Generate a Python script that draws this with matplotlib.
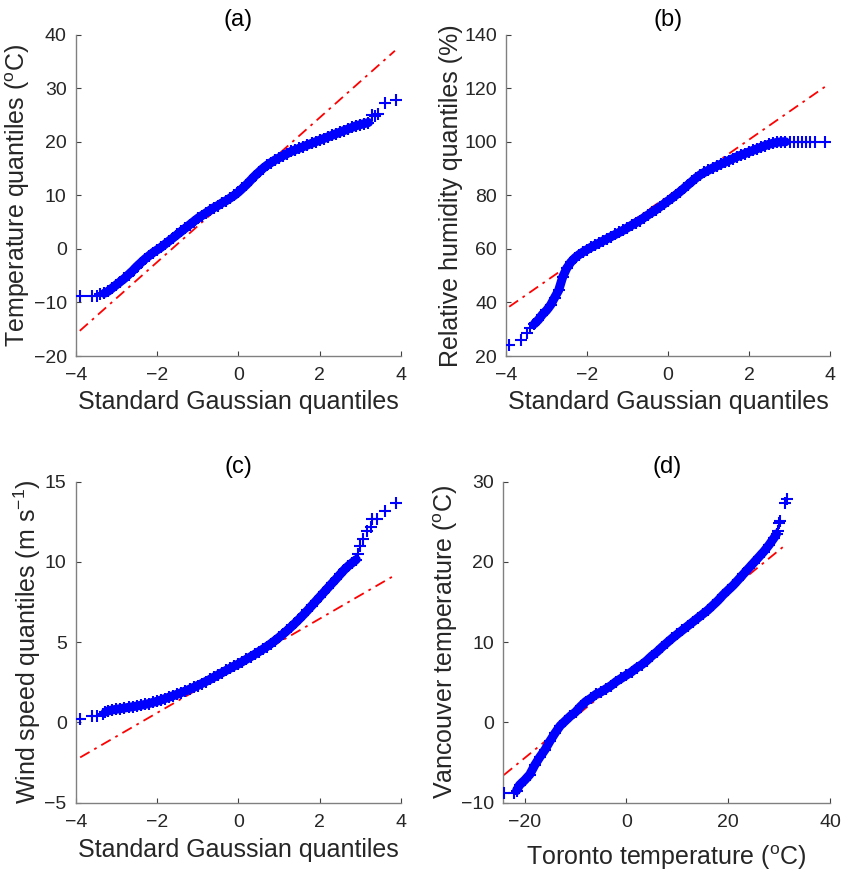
import matplotlib.pyplot as plt
import numpy as np

plt.rcParams['font.family'] = ['Liberation Sans', 'DejaVu Sans']
plt.rcParams['mathtext.fontset'] = 'custom'
plt.rcParams['mathtext.rm'] = 'Liberation Sans'
plt.rcParams['mathtext.it'] = 'Liberation Sans:italic'

# ---- (a) temperature vs Gaussian quantiles ----
a_x = [-3.89, -3.6, -3.48, -3.4, -3.3,
       -3.2, -3.1, -3.0, -2.9, -2.8, -2.7, -2.6, -2.5, -2.4, -2.3, -2.2, -2.1,
       -2.0, -1.9, -1.8, -1.7, -1.6, -1.5, -1.4, -1.3, -1.2, -1.1,
       -1.0, -0.9, -0.8, -0.7, -0.6, -0.5, -0.4, -0.3, -0.2, -0.1,
       0.0, 0.1, 0.2, 0.3, 0.4, 0.5, 0.6, 0.7, 0.8, 0.9,
       1.0, 1.1, 1.2, 1.3, 1.4, 1.5, 1.6, 1.7, 1.8, 1.9,
       2.0, 2.1, 2.2, 2.3, 2.4, 2.5, 2.6, 2.7, 2.8, 2.9,
       3.0, 3.1, 3.2, 3.28, 3.35, 3.44, 3.6, 3.88]
a_y = [-8.8, -8.8, -8.8, -8.5, -8.3,
       -7.9, -7.3, -6.7, -6.1, -5.5, -4.8, -4.1, -3.3, -2.6, -1.9, -1.3, -0.7,
       -0.2, 0.3, 0.9, 1.5, 2.1, 2.7, 3.3, 3.9, 4.5, 5.1,
       5.7, 6.2, 6.7, 7.2, 7.7, 8.1, 8.6, 9.0, 9.5, 10.0,
       10.6, 11.3, 12.0, 12.8, 13.6, 14.3, 15.0, 15.6, 16.1, 16.6,
       17.0, 17.4, 17.8, 18.2, 18.5, 18.8, 19.1, 19.4, 19.7, 20.0,
       20.3, 20.6, 20.9, 21.2, 21.5, 21.8, 22.1, 22.4, 22.7, 23.0,
       23.2, 23.4, 23.6, 25.0, 24.8, 25.1, 27.2, 27.8]
a_ref_x = [-3.9, 3.85]
a_ref_y = [-15.3, 37.0]

# ---- (b) relative humidity vs Gaussian quantiles ----
b_x = [-3.92, -3.64, -3.49, -3.4, -3.3,
       -3.2, -3.1, -3.0, -2.9, -2.8, -2.7, -2.6, -2.5, -2.4, -2.3, -2.2, -2.1,
       -2.0, -1.9, -1.8, -1.7, -1.6, -1.5, -1.4, -1.3, -1.2, -1.1,
       -1.0, -0.9, -0.8, -0.7, -0.6, -0.5, -0.4, -0.3, -0.2, -0.1,
       0.0, 0.1, 0.2, 0.3, 0.4, 0.5, 0.6, 0.7, 0.8, 0.9,
       1.0, 1.1, 1.2, 1.3, 1.4, 1.5, 1.6, 1.7, 1.8, 1.9,
       2.0, 2.1, 2.2, 2.3, 2.4, 2.5, 2.6, 2.7, 2.8, 2.9,
       3.0, 3.1, 3.2, 3.3, 3.4, 3.5, 3.62, 3.88]
b_y = [24.1, 26.0, 28.7, 30.3, 32.0,
       33.5, 35.5, 37.0, 39.0, 41.8, 44.5, 49.5, 52.8, 55.0, 56.6, 57.8, 58.8,
       59.7, 60.6, 61.4, 62.2, 63.0, 63.8, 64.6, 65.4, 66.2, 67.0,
       67.9, 68.8, 69.7, 70.6, 71.6, 72.6, 73.6, 74.6, 75.7, 76.8,
       77.9, 79.0, 80.2, 81.4, 82.7, 84.0, 85.3, 86.6, 87.7, 88.6,
       89.4, 90.2, 90.9, 91.6, 92.3, 93.0, 93.7, 94.4, 95.0, 95.6,
       96.2, 96.8, 97.4, 98.0, 98.6, 99.1, 99.5, 99.8, 100, 100,
       100, 100, 100, 100, 100, 100, 100, 100]
b_ref_x = [-3.92, 3.88]
b_ref_y = [38.4, 120.6]

# ---- (c) wind speed vs Gaussian quantiles ----
c_x = [-3.89, -3.61, -3.48, -3.34, -3.27,
       -3.2, -3.1, -3.0, -2.9, -2.8, -2.7, -2.6, -2.5, -2.4, -2.3, -2.2, -2.1,
       -2.0, -1.9, -1.8, -1.7, -1.6, -1.5, -1.4, -1.3, -1.2, -1.1,
       -1.0, -0.9, -0.8, -0.7, -0.6, -0.5, -0.4, -0.3, -0.2, -0.1,
       0.0, 0.1, 0.2, 0.3, 0.4, 0.5, 0.6, 0.7, 0.8, 0.9,
       1.0, 1.1, 1.2, 1.3, 1.4, 1.5, 1.6, 1.7, 1.8, 1.9,
       2.0, 2.1, 2.2, 2.3, 2.4, 2.5, 2.6, 2.7, 2.8, 2.9,
       2.95, 2.99, 3.07, 3.16, 3.25, 3.28, 3.4, 3.61, 3.88]
c_y = [0.23, 0.39, 0.39, 0.52, 0.65,
       0.72, 0.78, 0.82, 0.86, 0.90, 0.94, 0.98, 1.02, 1.07, 1.12, 1.18, 1.25,
       1.32, 1.40, 1.49, 1.58, 1.67, 1.76, 1.86, 1.96, 2.07, 2.18,
       2.30, 2.42, 2.55, 2.68, 2.82, 2.96, 3.10, 3.24, 3.38, 3.52,
       3.64, 3.79, 3.94, 4.09, 4.24, 4.40, 4.56, 4.73, 4.91, 5.10,
       5.30, 5.51, 5.73, 5.96, 6.20, 6.45, 6.71, 6.98, 7.26, 7.54,
       7.82, 8.10, 8.38, 8.66, 8.93, 9.22, 9.50, 9.74, 9.95, 10.15,
       10.5, 11.0, 11.45, 11.95, 12.2, 12.65, 12.7, 13.2, 13.7]
c_ref_x = [-3.89, 3.88]
c_ref_y = [-2.18, 9.22]

# ---- (d) Vancouver vs Toronto temperature quantiles ----
d_x = [-24.1, -22.0, -21.6,
       -21, -20, -19, -18, -17, -16, -15, -14, -13, -12, -11, -10,
       -9, -8, -7, -6, -5, -4, -3, -2, -1, 0,
       1, 2, 3, 4, 5, 6, 7, 8, 9, 10,
       11, 12, 13, 14, 15, 16, 17, 18, 19, 20,
       21, 22, 23, 24, 25, 26, 27, 28, 29,
       29.5, 29.8, 30.0, 30.2, 31.2, 31.6]
d_y = [-8.85, -8.8, -8.5,
       -7.8, -7.2, -6.5, -5.3, -4.3, -3.4, -2.3, -1.3, -0.4, 0.2, 0.8, 1.3,
       2.0, 2.6, 3.0, 3.5, 3.8, 4.2, 4.6, 5.1, 5.5, 5.9,
       6.3, 6.8, 7.2, 7.7, 8.3, 8.8, 9.4, 9.95, 10.5, 11.0,
       11.5, 12.0, 12.5, 13.0, 13.5, 14.0, 14.6, 15.2, 15.9, 16.5,
       17.1, 17.8, 18.5, 19.2, 19.9, 20.6, 21.3, 22.1, 23.0,
       23.5, 23.8, 24.8, 25.1, 27.3, 27.8]
d_ref_x = [-24.1, 31.4]
d_ref_y = [-6.56, 22.2]

panels = [
    dict(x=a_x, y=a_y, rx=a_ref_x, ry=a_ref_y, dense=(-3.35, 3.25), title='(a)',
         xlabel='Standard Gaussian quantiles', xpad=4,
         ylabel=r'Temperature quantiles ($^{\rm o}$C)',
         xlim=(-4, 4), ylim=(-20, 40), yticks=[-20, -10, 0, 10, 20, 30, 40],
         xticks=[-4, -2, 0, 2, 4],
         rect=[0.0898, 0.5936, 0.3859, 0.3668]),
    dict(x=b_x, y=b_y, rx=b_ref_x, ry=b_ref_y, dense=(-3.35, 2.95), title='(b)',
         xlabel='Standard Gaussian quantiles', xpad=4,
         ylabel='Relative humidity quantiles (%)',
         xlim=(-4, 4), ylim=(20, 140), yticks=[20, 40, 60, 80, 100, 120, 140],
         xticks=[-4, -2, 0, 2, 4],
         rect=[0.6002, 0.5936, 0.3844, 0.3668]),
    dict(x=c_x, y=c_y, rx=c_ref_x, ry=c_ref_y, dense=(-3.3, 2.92), title='(c)',
         xlabel='Standard Gaussian quantiles', xpad=5,
         ylabel=r'Wind speed quantiles (m s$^{-1}$)',
         xlim=(-4, 4), ylim=(-5, 15), yticks=[-5, 0, 5, 10, 15],
         xticks=[-4, -2, 0, 2, 4],
         rect=[0.0898, 0.0837, 0.3859, 0.3664]),
    dict(x=d_x, y=d_y, rx=d_ref_x, ry=d_ref_y, dense=(-21.7, 29.6), title='(d)',
         xlabel=r'Toronto temperature ($^{\rm o}$C)', xpad=9,
         ylabel=r'Vancouver temperature ($^{\rm o}$C)',
         xlim=(-24.2, 40), ylim=(-10, 30), yticks=[-10, 0, 10, 20, 30],
         xticks=[-20, 0, 20, 40],
         rect=[0.5970, 0.0837, 0.3876, 0.3664]),
]

fig = plt.figure(figsize=(8.43, 8.76), dpi=100)
text_gray = '#262626'

for p in panels:
    ax = fig.add_axes(p['rect'])
    x = np.array(p['x'])
    y = np.array(p['y'])
    lo, hi = p['dense']
    body = (x >= lo) & (x <= hi)

    ax.plot(p['rx'], p['ry'], color='red', linewidth=1.3,
            linestyle=(0, (6, 3, 1.5, 3)), zorder=2)
    # the dense middle of the quantile cloud reads as a solid band
    ax.plot(x[body], y[body], color='blue', linewidth=6.5,
            solid_capstyle='round', solid_joinstyle='round', zorder=3)
    ax.plot(x, y, linestyle='none', marker='+', markersize=8.5,
            markeredgewidth=1.5, color='blue', zorder=4)

    ax.set_xlim(p['xlim'])
    ax.set_ylim(p['ylim'])
    ax.set_xticks(p['xticks'])
    ax.set_yticks(p['yticks'])
    ax.set_title(p['title'], fontsize=17, color='black', pad=6)
    ax.set_xlabel(p['xlabel'], fontsize=18, color=text_gray, labelpad=p['xpad'])
    ax.set_ylabel(p['ylabel'], fontsize=18, color=text_gray, labelpad=1)

    ax.spines['top'].set_visible(False)
    ax.spines['right'].set_visible(False)
    for s in ('left', 'bottom'):
        ax.spines[s].set_color('#808080')
        ax.spines[s].set_linewidth(1.0)
    ax.tick_params(direction='in', length=3.5, width=0.8, colors='#404040',
                   labelcolor=text_gray, labelsize=14)
    ax.tick_params(axis='x', pad=8)
    ax.tick_params(axis='y', pad=6.5)

fig.savefig('out.png', dpi=100)
